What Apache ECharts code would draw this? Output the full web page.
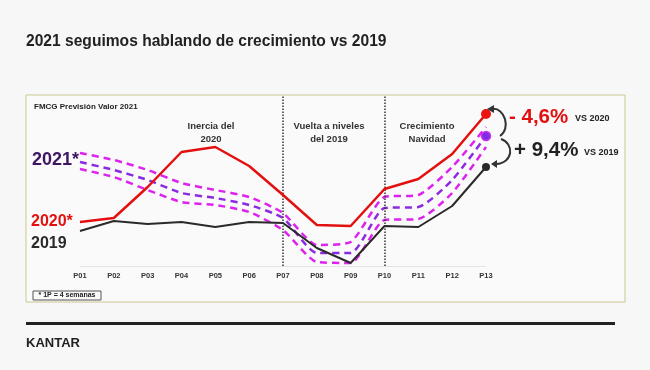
<!DOCTYPE html>
<html>
<head>
<meta charset="utf-8">
<script src="https://cdn.jsdelivr.net/npm/echarts@6/dist/echarts.min.js"></script>
<style>
html,body{margin:0;padding:0;background:#f8f7f7;}
#chart{width:650px;height:370px;}
</style>
</head>
<body>
<div id="chart"></div>
<script>
// Data (index units)
const periods = ['P01','P02','P03','P04','P05','P06','P07','P08','P09','P10','P11','P12','P13'];
const v2020 = [44, 48, 79, 114, 119, 100, 71, 41, 40, 77, 87, 112, 152];
const v2019 = [35, 45, 42, 44, 39, 44, 43, 18, 3, 40, 39, 60, 99];
const v2021 = [104, 96, 86, 73, 68, 61, 48, 13, 13, 58, 59, 86, 130];
const v2021High = [113, 106, 96, 83, 76, 69, 53, 21, 24, 69, 71, 99, 139];
const v2021Low = [97, 89, 76, 64, 61, 54, 36, 4, 3, 46, 47, 73, 119];
const phaseLines = ['P07', 'P10'];

const F = '"Liberation Sans", Arial, sans-serif';

function withEndDot(vals, size, color, border) {
  return vals.map((v, i) => i === vals.length - 1
    ? { value: v, symbol: 'circle', symbolSize: size, itemStyle: { color: color, borderColor: border || color, borderWidth: border ? 1.5 : 0 } }
    : v);
}

const chart = echarts.init(document.getElementById('chart'), null, { renderer: 'canvas' });

function txt(text, x, y, size, color, align, extra) {
  return {
    type: 'text', z: 20,
    style: Object.assign({
      text: text, x: x, y: y,
      font: 'bold ' + size + 'px ' + F,
      fill: color, textAlign: align || 'left', textVerticalAlign: 'middle'
    }, extra || {})
  };
}

const option = {
  backgroundColor: '#f8f7f7',
  animation: false,
  grid: { left: 80, right: 164, top: 96, bottom: 104 },
  xAxis: {
    type: 'category', data: periods, boundaryGap: false,
    axisLine: { lineStyle: { color: '#e4e4e4', width: 1 } },
    axisTick: { show: false },
    axisLabel: { margin: 6, fontSize: 7.5, fontWeight: 'bold', color: '#333', fontFamily: F },
    splitLine: { show: false }
  },
  yAxis: { type: 'value', min: 0, max: 170, show: false, splitLine: { show: false } },
  series: [
    {
      name: '2021 alto', type: 'line', z: 3, smooth: 0.2, symbol: 'none',
      data: v2021High,
      lineStyle: { color: '#dd22ee', width: 2.5, type: [7, 5] }
    },
    {
      name: '2021 bajo', type: 'line', z: 3, smooth: 0.2, symbol: 'none',
      data: v2021Low,
      lineStyle: { color: '#dd22ee', width: 2.5, type: [7, 5] }
    },
    {
      name: '2021', type: 'line', z: 4, smooth: 0.2, symbol: 'none',
      data: withEndDot(v2021, 9, '#7a2fe0', '#d030f0'),
      lineStyle: { color: '#8a2be2', width: 2.5, type: [7, 5] }
    },
    {
      name: '2019', type: 'line', z: 5, symbol: 'none',
      data: withEndDot(v2019, 8, '#2a2a2a'),
      lineStyle: { color: '#2a2a2a', width: 2 },
      markLine: {
        silent: true, symbol: 'none',
        label: { show: false },
        lineStyle: { color: '#333', type: 'dotted', width: 1.5 },
        data: phaseLines.map(p => ({ xAxis: p }))
      }
    },
    {
      name: '2020', type: 'line', z: 6, symbol: 'none',
      data: withEndDot(v2020, 10, '#ee1111'),
      lineStyle: { color: '#e31010', width: 2.5 }
    }
  ],
  graphic: [
    // title
    txt('2021 seguimos hablando de crecimiento vs 2019', 26, 42, 15.6, '#222'),
    // panel
    { type: 'rect', z: -5, shape: { x: 26, y: 95, width: 599, height: 207 },
      style: { fill: '#fafafa', stroke: '#c8c88e', lineWidth: 1 } },
    txt('FMCG Previsión Valor 2021', 34, 107, 8, '#222'),
    // phase annotations
    txt('Inercia del', 211, 126, 9.5, '#333', 'center'),
    txt('2020', 211, 139, 9.5, '#333', 'center'),
    txt('Vuelta a niveles', 329, 126, 9.5, '#333', 'center'),
    txt('del 2019', 329, 139, 9.5, '#333', 'center'),
    txt('Crecimiento', 427, 126, 9.5, '#333', 'center'),
    txt('Navidad', 427, 139, 9.5, '#333', 'center'),
    // left labels
    txt('2021*', 32, 160, 18, '#3d1560', 'left', { textShadowColor: '#e020f0', textShadowOffsetX: 1, textShadowOffsetY: 1, textShadowBlur: 0 }),
    txt('2020*', 31, 222, 16, '#e31010'),
    txt('2019', 31, 244, 16, '#2a2a2a'),
    // footnote
    { type: 'rect', z: 10, shape: { x: 33, y: 291, width: 68, height: 9 },
      style: { fill: '#fafafa', stroke: '#555', lineWidth: 1 } },
    txt('* 1P = 4 semanas', 67, 295.5, 7, '#222', 'center'),
    // arrows
    { type: 'bezierCurve', z: 20, shape: { x1: 492, y1: 109, cpx1: 505, cpy1: 107, cpx2: 511, cpy2: 129, x2: 500, y2: 136 },
      style: { stroke: '#333', lineWidth: 2, fill: null } },
    { type: 'polygon', z: 20, shape: { points: [[487, 109], [494, 105], [494, 113]] }, style: { fill: '#333' } },
    { type: 'bezierCurve', z: 20, shape: { x1: 501, y1: 139, cpx1: 514, cpy1: 143, cpx2: 514, cpy2: 163, x2: 496, y2: 164 },
      style: { stroke: '#333', lineWidth: 2, fill: null } },
    { type: 'polygon', z: 20, shape: { points: [[491, 164], [497, 160], [497, 168]] }, style: { fill: '#333' } },
    // percentages
    txt('- 4,6%', 509, 117, 20.5, '#e31010'),
    txt('VS 2020', 575, 119, 9, '#222'),
    txt('+ 9,4%', 514, 150, 20.5, '#222'),
    txt('VS 2019', 584, 153, 9, '#222'),
    // footer
    { type: 'rect', z: 10, shape: { x: 26, y: 322, width: 589, height: 3 }, style: { fill: '#222' } },
    txt('KANTAR', 26, 343, 13, '#222')
  ]
};

chart.setOption(option);
</script>
</body>
</html>
